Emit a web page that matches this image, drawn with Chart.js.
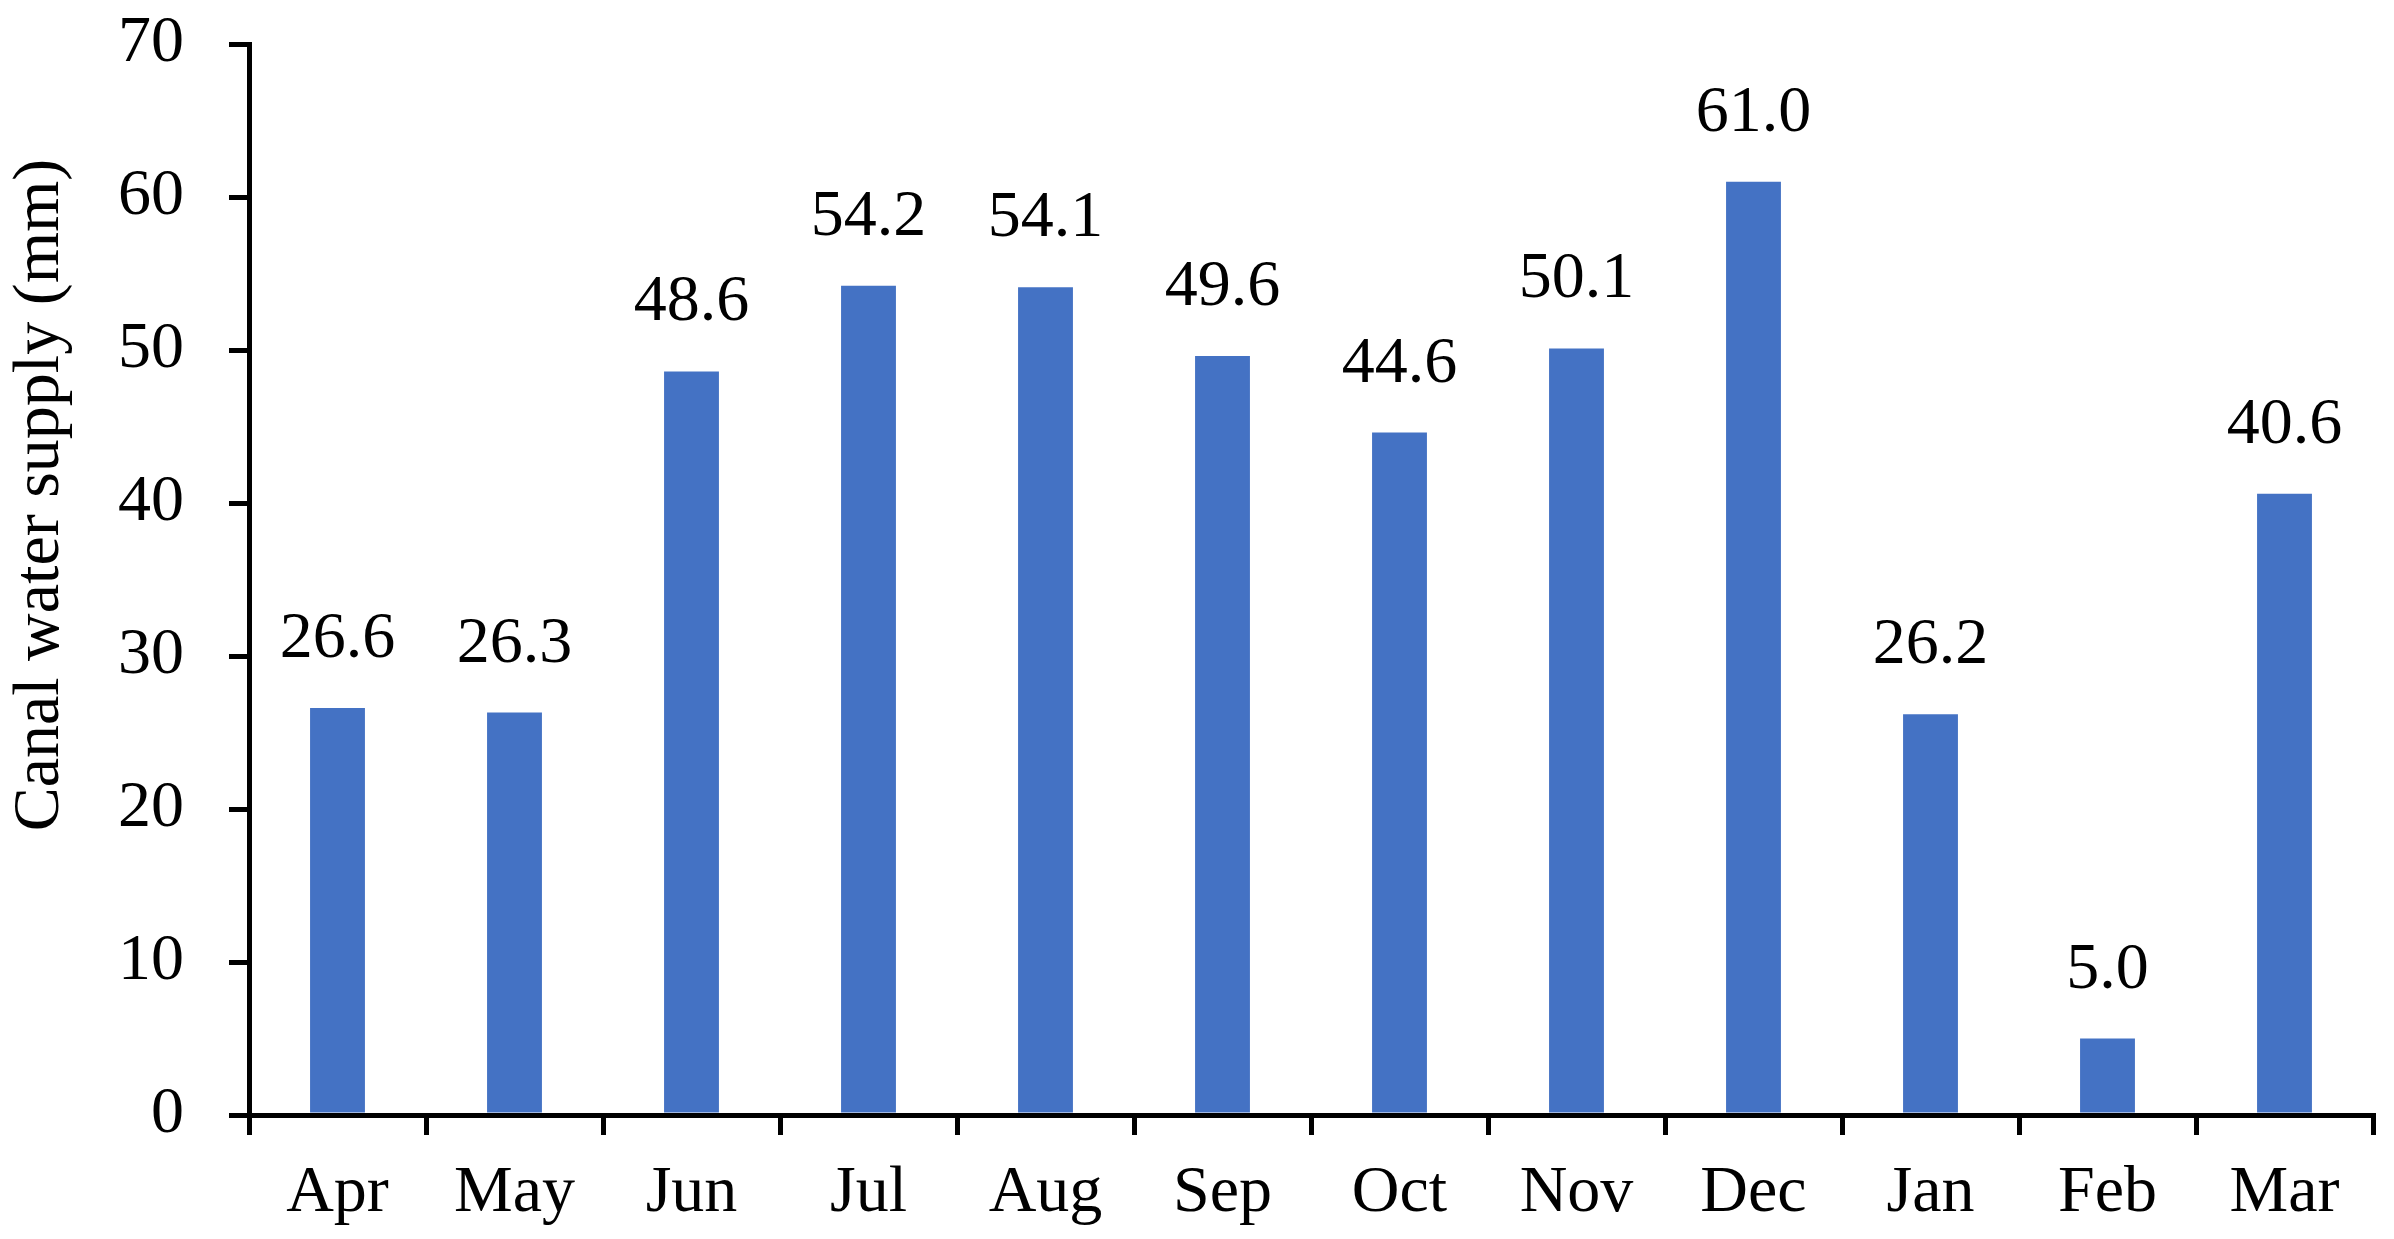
<!DOCTYPE html>
<html>
<head>
<meta charset="utf-8">
<title>Canal water supply</title>
<script src="https://cdn.jsdelivr.net/npm/chart.js@4.4.1/dist/chart.umd.min.js"></script>
<style>
  html, body { margin: 0; padding: 0; background: #ffffff; }
  canvas { display: block; }
</style>
</head>
<body>
<canvas id="supplyChart" width="2394" height="1239"></canvas>
<script>
// --- Data ---
const months = ['Apr', 'May', 'Jun', 'Jul', 'Aug', 'Sep', 'Oct', 'Nov', 'Dec', 'Jan', 'Feb', 'Mar'];
const canalSupply = [26.6, 26.3, 48.6, 54.2, 54.1, 49.6, 44.6, 50.1, 61.0, 26.2, 5.0, 40.6];
const yTicks = [0, 10, 20, 30, 40, 50, 60, 70];
const yTitle = 'Canal water supply (mm)';

const serif = '"Liberation Serif", "Times New Roman", serif';
const fontPx = 66;

// value labels above bars + y axis title, drawn by hand
const labelPlugin = {
    id: 'barLabels',
    afterDatasetsDraw(chart) {
        const ctx = chart.ctx;
        const meta = chart.getDatasetMeta(0);
        ctx.save();
        ctx.fillStyle = '#000000';
        ctx.font = fontPx + 'px ' + serif;
        ctx.textAlign = 'center';
        ctx.textBaseline = 'alphabetic';
        meta.data.forEach((bar, i) => {
            ctx.fillText(canalSupply[i].toFixed(1), bar.x, bar.y - 51);
        });

        // y axis title
        ctx.translate(41, 495);
        ctx.rotate(-Math.PI / 2);
        ctx.textBaseline = 'middle';
        ctx.fillText(yTitle, 0, 0);
        ctx.restore();
    }
};

Chart.defaults.font.family = serif;
Chart.defaults.font.size = fontPx;
Chart.defaults.color = '#000000';

const ctx = document.getElementById('supplyChart').getContext('2d');
new Chart(ctx, {
    type: 'bar',
    data: {
        labels: months,
        datasets: [{
            label: 'Canal water supply',
            data: canalSupply,
            backgroundColor: '#4472C4',
            borderWidth: 0,
            barPercentage: 0.31,
            categoryPercentage: 1.0
        }]
    },
    options: {
        responsive: false,
        animation: false,
        events: [],
        layout: { padding: { top: 44, right: 21, left: 0, bottom: 0 } },
        plugins: {
            legend: { display: false },
            tooltip: { enabled: false }
        },
        scales: {
            x: {
                offset: true,
                grid: {
                    offset: true,
                    drawOnChartArea: false,
                    drawTicks: true,
                    tickLength: 20,
                    color: '#000000',
                    lineWidth: 5
                },
                border: { color: '#000000', width: 5 },
                ticks: { padding: 19, maxRotation: 0, autoSkip: false },
                afterFit: (scale) => { scale.height = 124; }
            },
            y: {
                min: 0,
                max: 70,
                afterBuildTicks: (scale) => { scale.ticks = yTicks.map(v => ({ value: v })); },
                grid: {
                    drawOnChartArea: false,
                    drawTicks: true,
                    tickLength: 20,
                    color: '#000000',
                    lineWidth: 5
                },
                border: { color: '#000000', width: 5 },
                ticks: { padding: 45 },
                afterFit: (scale) => {
                    // tick padding otherwise pushes the plot top down
                    scale.width = 249;
                    scale.paddingTop = 0;
                    scale.paddingBottom = 0;
                }
            }
        }
    },
    plugins: [labelPlugin]
});
</script>
</body>
</html>
